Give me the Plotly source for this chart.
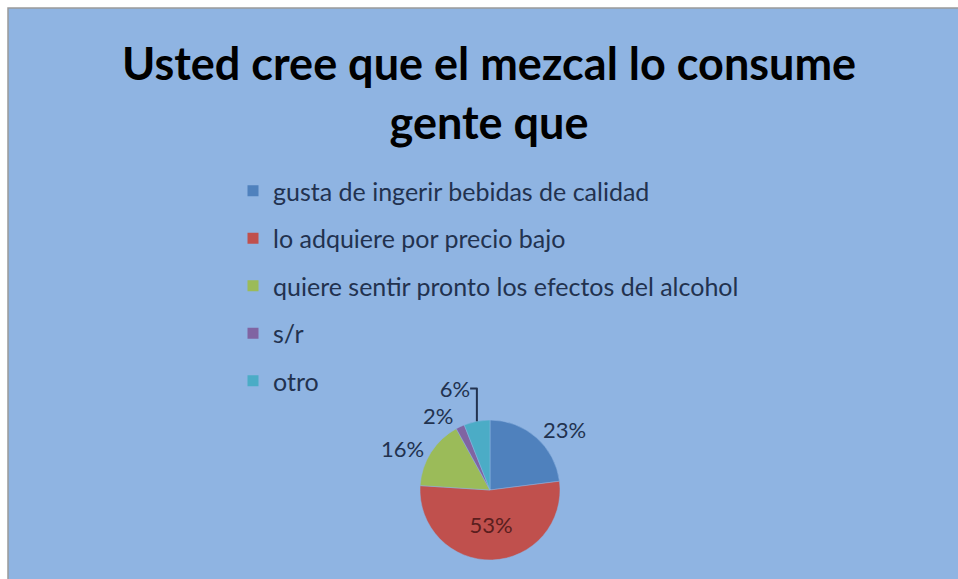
import plotly.graph_objects as go

categories = [
    "gusta de ingerir bebidas de calidad",
    "lo adquiere por precio bajo",
    "quiere sentir pronto los efectos del alcohol",
    "s/r",
    "otro",
]
values = [23, 53, 16, 2, 6]
colors = ["#4F81BD", "#C0504D", "#9BBB59", "#8064A2", "#4BACC6"]
title_text = "Usted cree que el mezcal lo consume<br>gente que"

W, H = 958, 579
BG = "#8FB4E2"
TXT = "#22324F"

fig = go.Figure()

fig.add_trace(go.Pie(
    labels=categories,
    values=values,
    sort=False,
    direction="clockwise",
    rotation=0,
    marker=dict(colors=colors, line=dict(color=BG, width=0.5)),
    texttemplate="%{percent:.0%}",
    textposition=["outside", "inside", "outside", "outside", "outside"],
    textfont=dict(family="Lato", size=22, color=TXT),
    insidetextfont=dict(family="Lato", size=22, color="#5A1E1E"),
    outsidetextfont=dict(family="Lato", size=22, color=TXT),
    showlegend=False,
    hoverinfo="label+percent",
    domain=dict(x=[420 / W, 560 / W], y=[1 - 560 / H, 1 - 420 / H]),
))

# legend entries (one per category)
for i, (cat, col) in enumerate(zip(categories, colors)):
    fig.add_trace(go.Scatter(
        x=[None], y=[None], mode="markers", name=cat,
        marker=dict(symbol="square", size=11, color=col),
        legendgroup=f"g{i}", showlegend=True,
    ))

fig.update_layout(
    width=W, height=H,
    margin=dict(l=0, r=0, t=0, b=0),
    paper_bgcolor="white",
    plot_bgcolor="rgba(0,0,0,0)",
    xaxis=dict(visible=False),
    yaxis=dict(visible=False),
    annotations=[dict(
        text=title_text, xref="paper", yref="paper",
        x=489 / W, xanchor="center", y=1 - 34 / H, yanchor="top",
        showarrow=False, align="center",
        font=dict(family="Lato", size=45, color="black", weight="bold"),
    )],
    legend=dict(
        x=233 / W, xanchor="left", y=1 - 168 / H, yanchor="top",
        bgcolor="rgba(0,0,0,0)", tracegroupgap=12,
        font=dict(family="Lato", size=25, color=TXT),
    ),
    shapes=[
        dict(type="rect", xref="paper", yref="paper",
             x0=8 / W, x1=1.05, y0=-0.05, y1=1 - 8 / H,
             fillcolor=BG, line=dict(color="#9A9A9A", width=1.5), layer="below"),
    ],
)

fig.write_html("out.html")
